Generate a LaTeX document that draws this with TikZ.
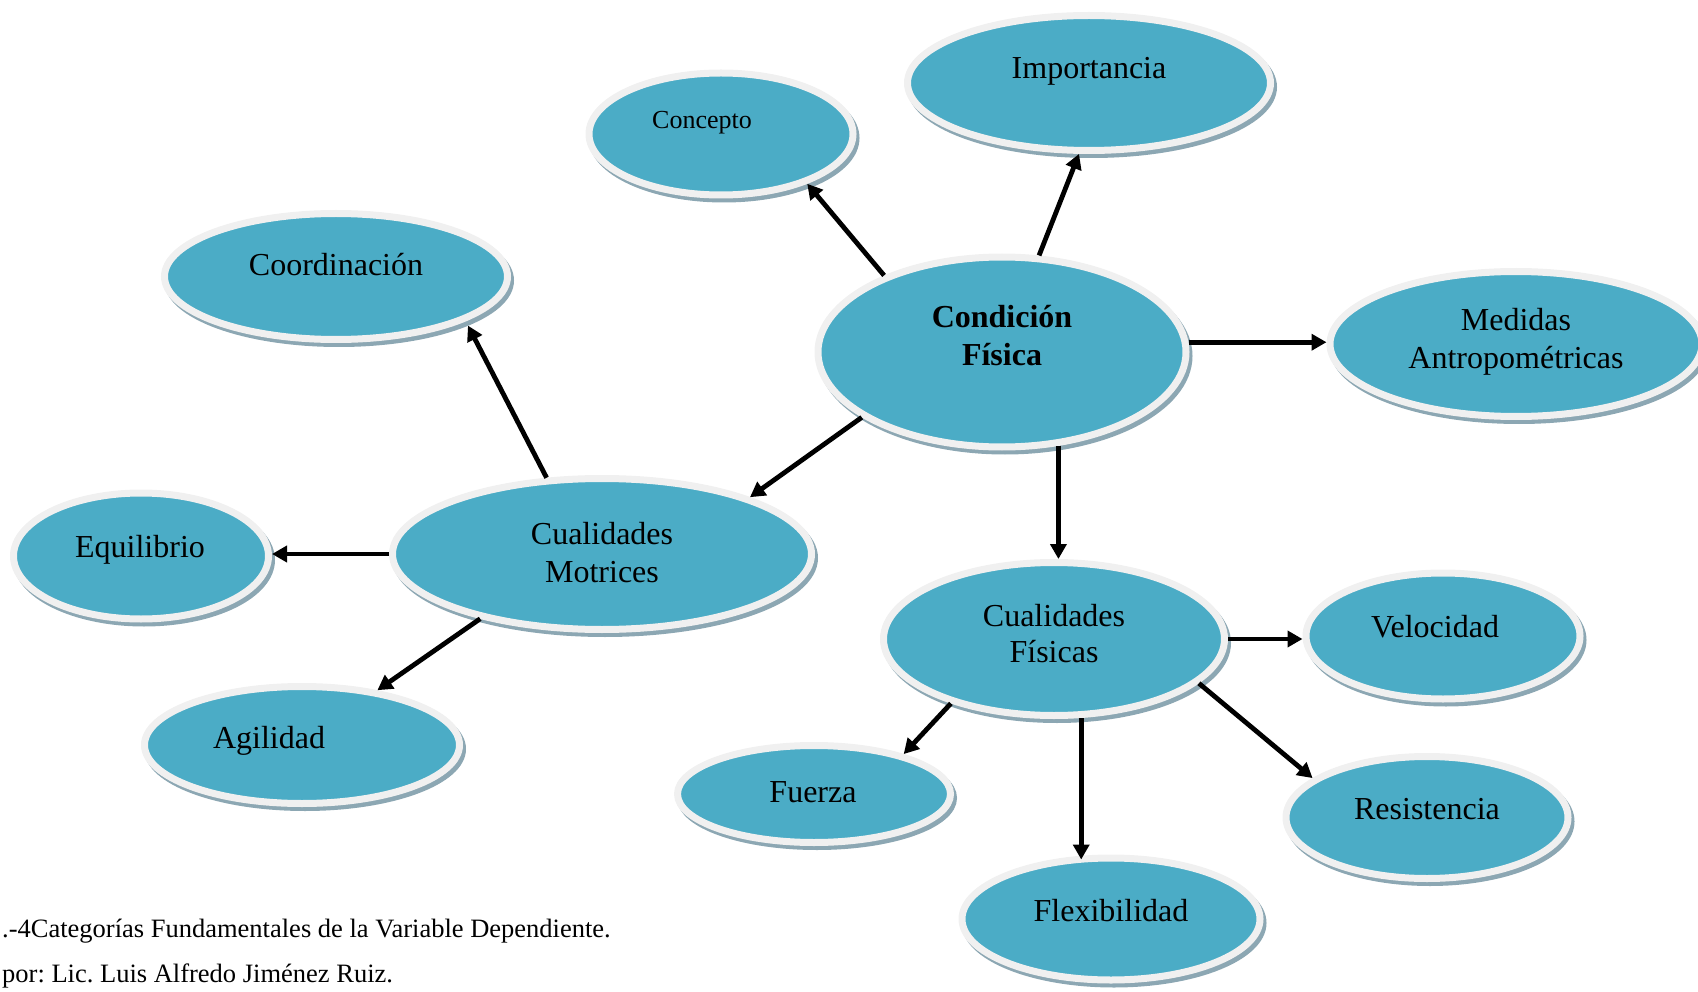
\documentclass[tikz,border=0pt]{standalone}
\usepackage{fontspec}
\setmainfont{Liberation Serif}
\frenchspacing
\usetikzlibrary{shapes.geometric,arrows.meta,shadows}
\definecolor{bubfill}{HTML}{4BACC6}
\definecolor{bubring}{HTML}{F0F0F0}
\definecolor{bubshadow}{HTML}{8CA7B3}
\begin{document}
\begin{tikzpicture}[x=1pt,y=-1pt,
  bubble/.style={ellipse, fill=bubfill, draw=bubring, line width=7pt, inner sep=0pt,
    drop shadow={shadow xshift=3pt, shadow yshift=-4pt, fill=bubshadow, draw=bubshadow, opacity=1}},
  lbl/.style={anchor=base, inner sep=0pt, font=\fontsize{32}{38}\selectfont},
  small/.style={anchor=base, inner sep=0pt, font=\fontsize{26}{30}\selectfont},
  arr/.style={line width=4.8pt, -{Triangle[length=15pt,width=16pt]}}]
\useasboundingbox (0,0) rectangle (1698,992);

% bubbles
\node[bubble, minimum width=264pt, minimum height=122pt] (cpt) at (721,134) {};
\node[bubble, minimum width=363pt, minimum height=135pt] (imp) at (1089,83) {};
\node[bubble, minimum width=343pt, minimum height=126pt] (coo) at (336,276.5) {};
\node[bubble, minimum width=368pt, minimum height=190pt] (cf0) at (1002,352) {};
\node[bubble, minimum width=372pt, minimum height=145pt] (med) at (1516,344) {};
\node[bubble, minimum width=255pt, minimum height=126pt] (equ) at (141,556) {};
\node[bubble, minimum width=419pt, minimum height=151pt] (mot) at (602,554) {};
\node[bubble, minimum width=315pt, minimum height=117pt] (agi) at (302,745) {};
\node[bubble, minimum width=341pt, minimum height=153pt] (fis) at (1054,639) {};
\node[bubble, minimum width=274pt, minimum height=126pt] (vel) at (1443,636) {};
\node[bubble, minimum width=273pt, minimum height=97pt] (fue) at (814,794) {};
\node[bubble, minimum width=282pt, minimum height=122pt] (res) at (1427,817.5) {};
\node[bubble, minimum width=298pt, minimum height=122pt] (fle) at (1111,919) {};

% texts
\node[small] (cpt-t) at (702,129) {Concepto};
\node[lbl] (imp-t) at (1089,79) {Importancia};
\node[lbl] (coo-t) at (336,276) {Coordinación};
\node[lbl, font=\fontsize{32}{38}\selectfont\bfseries] (cf0-t1) at (1002,328) {Condición};
\node[lbl, font=\fontsize{32}{38}\selectfont\bfseries] (cf0-t2) at (1002,366) {Física};
\node[lbl] (med-t1) at (1516,331) {Medidas};
\node[lbl] (med-t2) at (1516,369) {Antropométricas};
\node[lbl] (equ-t) at (140,557) {Equilibrio};
\node[lbl] (mot-t1) at (602,544) {Cualidades};
\node[lbl] (mot-t2) at (602,582) {Motrices};
\node[lbl] (agi-t) at (269,748) {Agilidad};
\node[lbl] (fis-t1) at (1054,626) {Cualidades};
\node[lbl] (fis-t2) at (1054,662) {Físicas};
\node[lbl] (vel-t) at (1435,637) {Velocidad};
\node[lbl] (fue-t) at (813,802) {Fuerza};
\node[lbl] (res-t) at (1427,819) {Resistencia};
\node[lbl] (fle-t) at (1111,921) {Flexibilidad};

% arrows
\draw[arr] (cf0.147.6) -- (cpt.-30.3);
\draw[arr] (cf0.69.6) -- (imp.-98.4);
\draw[arr] (cf0.3.3) -- (cf0.3.3 -| med.west);
\draw[arr] (cf0.-155.5) -- (mot.21.7);
\draw[arr] (cf0.-59.3) -- (cf0.-59.3 |- fis.north);
\draw[arr, shorten >=5pt] (mot.126.9) -- (coo.-19);
\draw[arr] (mot.west) -- (mot.west -| equ.east);
\draw[arr] (mot.-152.6) -- (agi.36.7);
\draw[arr] (fis.east) -- (fis.east -| vel.west);
\draw[arr] (fis.-148.3) -- (fue.24.7);
\draw[arr, shorten >=-5pt] (fis.-71.3) -- (fis.-71.3 |- fle.north);
\draw[arr] (fis.-17.9) -- (res.161.8);

% caption
\node[anchor=base west, inner sep=0pt, font=\fontsize{26.5}{31}\selectfont] (cap1) at (2,937) {.-4Categorías Fundamentales de la Variable Dependiente.};
\node[anchor=base west, inner sep=0pt, font=\fontsize{26.5}{31}\selectfont] (cap2) at (2,982) {por: Lic. Luis Alfredo Jiménez Ruiz.};
\end{tikzpicture}
\end{document}
